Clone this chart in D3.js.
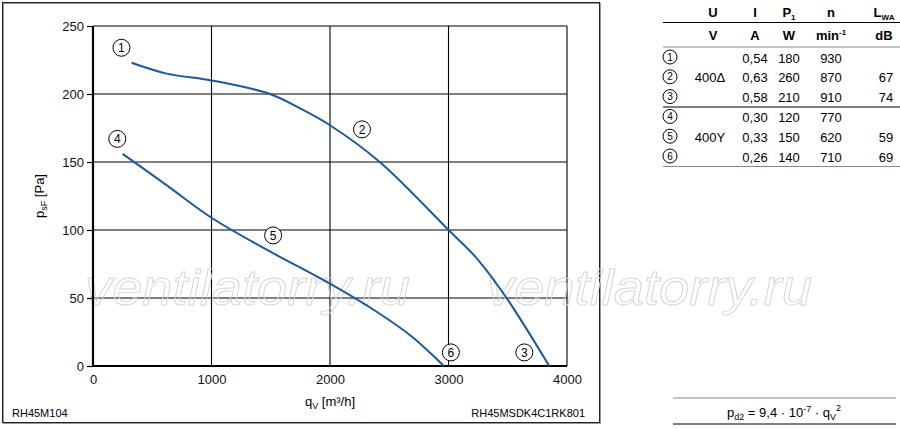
<!DOCTYPE html>
<html>
<head>
<meta charset="utf-8">
<script src="https://cdn.jsdelivr.net/npm/d3@7"></script>
<style>
  body { margin: 0; background: #fff; }
  svg { display: block; font-family: "Liberation Sans", Arial, sans-serif; }
</style>
</head>
<body>
<div id="chart"></div>
<script>
// fan curves
let flowUpper = [326, 622, 1000, 1494, 1747, 2000, 2420, 3000, 3240, 3490, 3850];
let pressUpper = [223, 215, 210, 200, 189.4, 177, 150, 100, 79, 50, 0];

let flowLower = [250, 620, 1000, 1466, 2000, 2400, 2700, 2960];
let pressLower = [156, 133, 109, 85.5, 60.5, 39.5, 21, 0];

let xTicks = [0, 1000, 2000, 3000, 4000];
let yTicks = [0, 50, 100, 150, 200, 250];

// circled curve numbers: [number, flow, pressure]
let curveLabels = [
  [1, 240, 234],
  [2, 2270, 174],
  [3, 3640, 10],
  [4, 205, 167],
  [5, 1520, 96],
  [6, 3020, 10]
];

// table
let rowNo = [1, 2, 3, 4, 5, 6];
let voltage = ["", "400\u0394", "", "", "400Y", ""];
let current = ["0,54", "0,63", "0,58", "0,30", "0,33", "0,26"];
let power = ["180", "260", "210", "120", "150", "140"];
let speed = ["930", "870", "910", "770", "620", "710"];
let noise = ["", "67", "74", "", "59", "69"];

let blue = "#1d5a97";

let W = 900, H = 429;
let svg = d3.select("#chart").append("svg")
  .attr("width", W)
  .attr("height", H);

// frame round the chart
svg.append("rect")
  .attr("x", 3.5).attr("y", 3.5)
  .attr("width", 597).attr("height", 420)
  .attr("fill", "none").attr("stroke", "#999").attr("stroke-width", 1);
svg.append("rect")
  .attr("x", 2.5).attr("y", 2.5)
  .attr("width", 597).attr("height", 420)
  .attr("fill", "none").attr("stroke", "#222").attr("stroke-width", 1);

let x = d3.scaleLinear().domain([0, 4000]).range([93, 567]);
let y = d3.scaleLinear().domain([0, 250]).range([366, 26]);

// grid
let g = svg.append("g");
g.selectAll("line.vgrid")
  .data(xTicks.slice(1))
  .enter().append("line")
  .attr("x1", d => x(d)).attr("x2", d => x(d))
  .attr("y1", y(0)).attr("y2", y(250))
  .attr("stroke", "#000").attr("stroke-width", 1.1);
g.selectAll("line.hgrid")
  .data(yTicks.slice(1))
  .enter().append("line")
  .attr("x1", x(0)).attr("x2", x(4000))
  .attr("y1", d => y(d)).attr("y2", d => y(d))
  .attr("stroke", "#000").attr("stroke-width", 1.1);

// watermark
["", ""].forEach(function(_, i) {
  svg.append("text")
    .attr("x", 85 + i * 402)
    .attr("y", 305)
    .attr("textLength", 325)
    .attr("lengthAdjust", "spacingAndGlyphs")
    .attr("font-size", 50)
    .attr("font-style", "italic")
    .attr("font-family", "'Liberation Sans', Arial, sans-serif")
    .attr("fill", "none")
    .attr("stroke", "#d4d4d4")
    .attr("stroke-width", 0.9)
    .text("ventilatorry.ru");
});

// axes
let yAxis = d3.axisLeft(y).tickValues(yTicks).tickSize(6).tickPadding(3).tickFormat(d3.format("d"));
let yg = svg.append("g")
  .attr("transform", "translate(" + x(0) + ",0)")
  .call(yAxis);
yg.select(".domain").remove();
yg.selectAll("text").attr("font-size", 13).attr("font-family", "'Liberation Sans', Arial, sans-serif").attr("fill", "#111");
yg.selectAll("line").attr("stroke", "#000").attr("stroke-width", 1.2);

let xAxis = d3.axisBottom(x).tickValues(xTicks).tickSize(0).tickPadding(9).tickFormat(d3.format("d"));
let xg = svg.append("g")
  .attr("transform", "translate(0," + y(0) + ")")
  .call(xAxis);
xg.select(".domain").remove();
xg.selectAll("text").attr("font-size", 13).attr("font-family", "'Liberation Sans', Arial, sans-serif").attr("fill", "#111");

// heavier axis lines
svg.append("line")
  .attr("x1", x(0)).attr("x2", x(4000))
  .attr("y1", y(0)).attr("y2", y(0))
  .attr("stroke", "#000").attr("stroke-width", 2.2);
svg.append("line")
  .attr("x1", x(0)).attr("x2", x(0))
  .attr("y1", y(0)).attr("y2", y(250))
  .attr("stroke", "#000").attr("stroke-width", 2.2);

// curves
let line = d3.line()
  .x(d => x(d[0]))
  .y(d => y(d[1]))
  .curve(d3.curveCatmullRom.alpha(0.5));

[[flowUpper, pressUpper], [flowLower, pressLower]].forEach(function(s) {
  let pts = s[0].map((q, i) => [q, s[1][i]]);
  svg.append("path")
    .attr("d", line(pts))
    .attr("fill", "none")
    .attr("stroke", blue)
    .attr("stroke-width", 2);
});

// circled numbers
function circled(parent, cx, cy, r, num, fs) {
  let c = parent.append("g").attr("transform", "translate(" + cx + "," + cy + ")");
  c.append("circle").attr("r", r).attr("fill", "#fff").attr("stroke", "#000").attr("stroke-width", 1);
  c.append("text")
    .attr("text-anchor", "middle")
    .attr("dy", "0.36em")
    .attr("font-size", fs)
    .text(num);
}

curveLabels.forEach(function(d) {
  circled(svg, x(d[1]), y(d[2]), 8.5, d[0], 12);
});

// axis titles
let yt = svg.append("text")
  .attr("transform", "translate(44,196) rotate(-90)")
  .attr("text-anchor", "middle")
  .attr("font-size", 13);
yt.append("tspan").text("p");
yt.append("tspan").attr("font-size", 9).attr("dy", 3).text("sF");
yt.append("tspan").attr("dy", -3).text(" [Pa]");

let xt = svg.append("text")
  .attr("x", 330).attr("y", 406)
  .attr("text-anchor", "middle")
  .attr("font-size", 13);
xt.append("tspan").text("q");
xt.append("tspan").attr("font-size", 9).attr("dy", 3).text("V");
xt.append("tspan").attr("dy", -3).text(" [m\u00b3/h]");

// footer codes
svg.append("text").attr("x", 12).attr("y", 417).attr("font-size", 11).text("RH45M104");
svg.append("text").attr("x", 585).attr("y", 417).attr("text-anchor", "end").attr("font-size", 11).text("RH45MSDK4C1RK801");

// table
let t = svg.append("g").attr("font-size", 13);
let colX = { no: 670, u: 713, i: 755, p: 789, n: 831, l: 884 };

function head(xp, yp, main, sub) {
  let tx = t.append("text").attr("x", xp).attr("y", yp).attr("text-anchor", "middle")
    .attr("font-weight", "bold");
  tx.append("tspan").text(main);
  if (sub) tx.append("tspan").attr("font-size", 8).attr("dy", 3).text(sub);
  return tx;
}
head(colX.u, 17, "U");
head(colX.i, 17, "I");
head(colX.p, 17, "P", "1");
head(colX.n, 17, "n");
head(colX.l, 17, "L", "WA");

head(colX.u, 40, "V");
head(colX.i, 40, "A");
head(colX.p, 40, "W");
let mn = head(colX.n, 40, "min");
mn.append("tspan").attr("font-size", 8).attr("dy", -5).text("-1");
head(colX.l, 40, "dB");

let rowY = d3.scaleLinear().domain([1, 6]).range([58, 157]);

rowNo.forEach(function(r, i) {
  let yy = rowY(r);
  circled(t, colX.no, yy - 1, 7, r, 10);
  let cells = [[colX.u - 3, voltage[i]], [colX.i, current[i]], [colX.p, power[i]], [colX.n, speed[i]], [colX.l + 2, noise[i]]];
  cells.forEach(function(c) {
    t.append("text")
      .attr("x", c[0]).attr("y", yy + 4.5)
      .attr("text-anchor", "middle")
      .text(c[1]);
  });
});

[[22.5, "#000"], [47, "#888"], [107, "#000"], [166.5, "#888"]].forEach(function(l) {
  t.append("line")
    .attr("x1", 663).attr("x2", 900)
    .attr("y1", l[0]).attr("y2", l[0])
    .attr("stroke", l[1]).attr("stroke-width", 1);
});

// dynamic pressure formula
[[398, "#888"], [424, "#000"]].forEach(function(l) {
  svg.append("line")
    .attr("x1", 673).attr("x2", 896)
    .attr("y1", l[0]).attr("y2", l[0])
    .attr("stroke", l[1]).attr("stroke-width", 1);
});
let f = svg.append("text")
  .attr("x", 784).attr("y", 417)
  .attr("text-anchor", "middle")
  .attr("font-size", 13);
f.append("tspan").text("p");
f.append("tspan").attr("font-size", 9).attr("dy", 3).text("d2");
f.append("tspan").attr("dy", -3).text(" = 9,4 \u00b7 10");
f.append("tspan").attr("font-size", 9).attr("dy", -5).text("-7");
f.append("tspan").attr("dy", 5).text(" \u00b7 q");
f.append("tspan").attr("font-size", 9).attr("dy", 3).text("V");
f.append("tspan").attr("font-size", 9).attr("dy", -9).text("2");
</script>
</body>
</html>
